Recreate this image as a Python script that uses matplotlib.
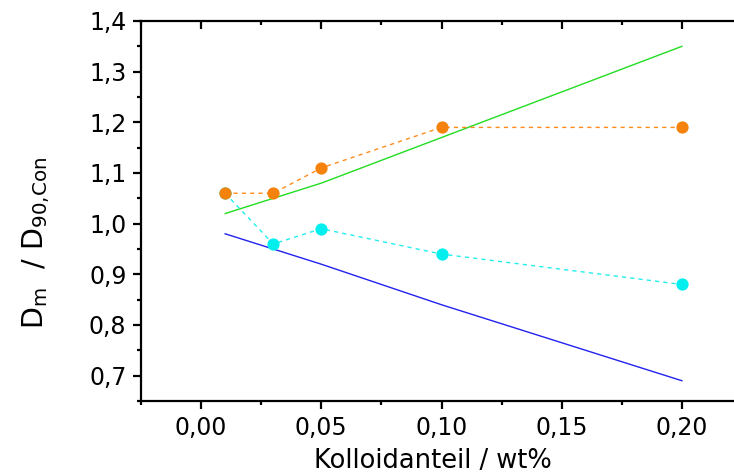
import matplotlib
matplotlib.use('Agg')
import matplotlib.pyplot as plt
from matplotlib.ticker import MultipleLocator, FuncFormatter

plt.rcParams['font.family'] = ['DejaVu Sans']
plt.rcParams['mathtext.fontset'] = 'dejavusans'

# Daten
x = [0.01, 0.03, 0.05, 0.10, 0.20]
y_gruen = [1.02, 1.05, 1.08, 1.17, 1.35]
y_blau = [0.98, 0.95, 0.92, 0.84, 0.69]
y_orange = [1.06, 1.06, 1.11, 1.19, 1.19]
y_cyan = [1.06, 0.96, 0.99, 0.94, 0.88]

fig = plt.figure(figsize=(7.34, 4.74), dpi=100)
ax = fig.add_axes([141/734, 73/474, 601/734, 380/474])

ax.plot(x, y_gruen, color='#22dd22', lw=1.0)
ax.plot(x, y_blau, color='#2222ee', lw=1.0)
ax.plot(x, y_cyan, color='#22eeee', lw=1.0, ls=(0, (3, 3)),
        marker='o', ms=7.8, mfc='#00eeee', mec='#00eeee')
ax.plot(x, y_orange, color='#ff8c1a', lw=1.0, ls=(0, (3, 3)),
        marker='o', ms=7.8, mfc='#f5820a', mec='#f5820a')

ax.set_xlim(-0.025, 0.225)
ax.set_ylim(0.65, 1.4)
ax.xaxis.set_major_locator(MultipleLocator(0.05))
ax.xaxis.set_minor_locator(MultipleLocator(0.025))
ax.yaxis.set_major_locator(MultipleLocator(0.1))
ax.yaxis.set_minor_locator(MultipleLocator(0.05))
ax.xaxis.set_major_formatter(FuncFormatter(lambda v, p: f'{v:.2f}'.replace('.', ',')))
ax.yaxis.set_major_formatter(FuncFormatter(lambda v, p: f'{v:.1f}'.replace('.', ',')))

for s in ax.spines.values():
    s.set_linewidth(1.6)
ax.tick_params(which='both', direction='out', width=1.6, labelsize=17, colors='black', pad=5)
ax.tick_params(which='major', length=5.5)
ax.tick_params(which='minor', length=3)
ax.tick_params(axis='both', which='both', top=True, right=True)

# Ticks oben/rechts nach innen
for t in ax.xaxis.get_major_ticks() + ax.xaxis.get_minor_ticks():
    t.tick2line.set_marker(3)
for t in ax.yaxis.get_major_ticks() + ax.yaxis.get_minor_ticks():
    t.tick2line.set_marker(0)

ax.set_xlabel('Kolloidanteil / wt%', fontsize=18.5)
ax.xaxis.set_label_coords(0.486, -0.125)
ax.set_ylabel(r'D$_{\mathrm{m}}$  / D$_{\mathrm{90{,}Con}}$', fontsize=20.5)
ax.yaxis.set_label_coords(-0.148, 0.415)

fig.savefig('out.png', dpi=100)
